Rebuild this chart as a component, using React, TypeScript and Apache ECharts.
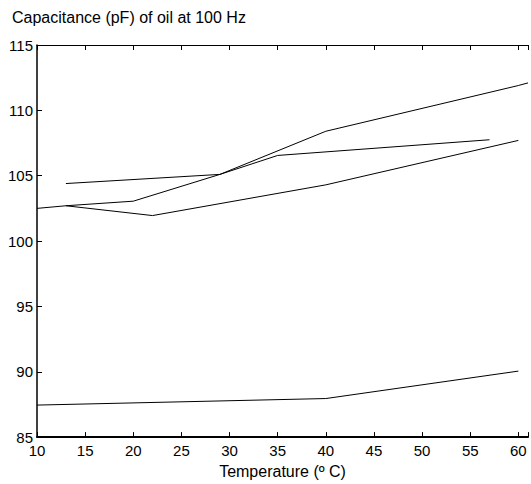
import React, { useEffect, useRef } from "react";
import * as echarts from "echarts";

const titleText = "Capacitance (pF) of oil at 100 Hz";
const xName = "Temperature (º C)";
const xTicks = [10, 15, 20, 25, 30, 35, 40, 45, 50, 55, 60];

// [temperature, capacitance]
const series1: [number, number][] = [[10, 102.5], [13, 102.7], [20, 103.05], [29, 105.1], [40, 108.4], [60, 111.9], [61, 112.1]];
const series2: [number, number][] = [[13, 102.7], [22, 101.95], [40, 104.3], [60, 107.7]];
const series3: [number, number][] = [[13, 104.4], [29, 105.1], [35, 106.55], [57, 107.75]];
const series4: [number, number][] = [[10, 87.45], [40, 87.95], [60, 90.05]];

const FONT = "'Liberation Sans', Arial, Helvetica, sans-serif";

export default function App() {
  const ref = useRef<HTMLDivElement>(null);
  useEffect(() => {
    document.body.style.margin = "0";
    const chart = echarts.init(ref.current!, null, { renderer: "svg" });
    const lineStyle = { color: "#000", width: 1 };
    const mk = (data: [number, number][]) => ({
      type: "line" as const,
      data,
      symbol: "none",
      lineStyle,
      clip: true,
    });
    chart.setOption({
      animation: false,
      backgroundColor: "#fff",
      textStyle: { fontFamily: FONT },
      title: {
        text: titleText,
        left: 12,
        top: 9,
        padding: 0,
        textStyle: { fontSize: 16, fontWeight: "normal", color: "#000", fontFamily: FONT },
      },
      grid: { left: 37, top: 45, bottom: 42, right: 0, containLabel: false },
      xAxis: [
        {
          type: "value",
          min: 10,
          max: 61,
          interval: 5,
          name: xName,
          nameLocation: "middle",
          nameGap: 21,
          nameTextStyle: { fontSize: 16, color: "#000", fontFamily: FONT },
          axisLine: { show: true, onZero: false, lineStyle: { color: "#000", width: 2 } },
          axisTick: { show: true, inside: true, length: 5, lineStyle: { color: "#000", width: 1 } },
          axisLabel: {
            fontSize: 15,
            color: "#000",
            margin: 6,
            fontFamily: FONT,
            formatter: (v: number) => (xTicks.includes(v) ? String(v) : ""),
          },
          splitLine: { show: false },
        },
        {
          type: "value",
          position: "top",
          min: 10,
          max: 61,
          interval: 5,
          axisLine: { show: true, onZero: false, lineStyle: { color: "#000", width: 1 } },
          axisTick: { show: true, inside: true, length: 5, lineStyle: { color: "#000", width: 1 } },
          axisLabel: { show: false },
          splitLine: { show: false },
        },
      ],
      yAxis: {
        type: "value",
        min: 85,
        max: 115,
        interval: 5,
        axisLine: { show: true, onZero: false, lineStyle: { color: "#000", width: 1.5 } },
        axisTick: { show: true, inside: true, length: 5, lineStyle: { color: "#000", width: 1 } },
        axisLabel: { fontSize: 15, color: "#000", margin: 4, fontFamily: FONT },
        splitLine: { show: false },
      },
      series: [mk(series1), mk(series2), mk(series3), mk(series4)],
    });
    return () => chart.dispose();
  }, []);
  return <div ref={ref} style={{ width: 531, height: 484 }} />;
}
